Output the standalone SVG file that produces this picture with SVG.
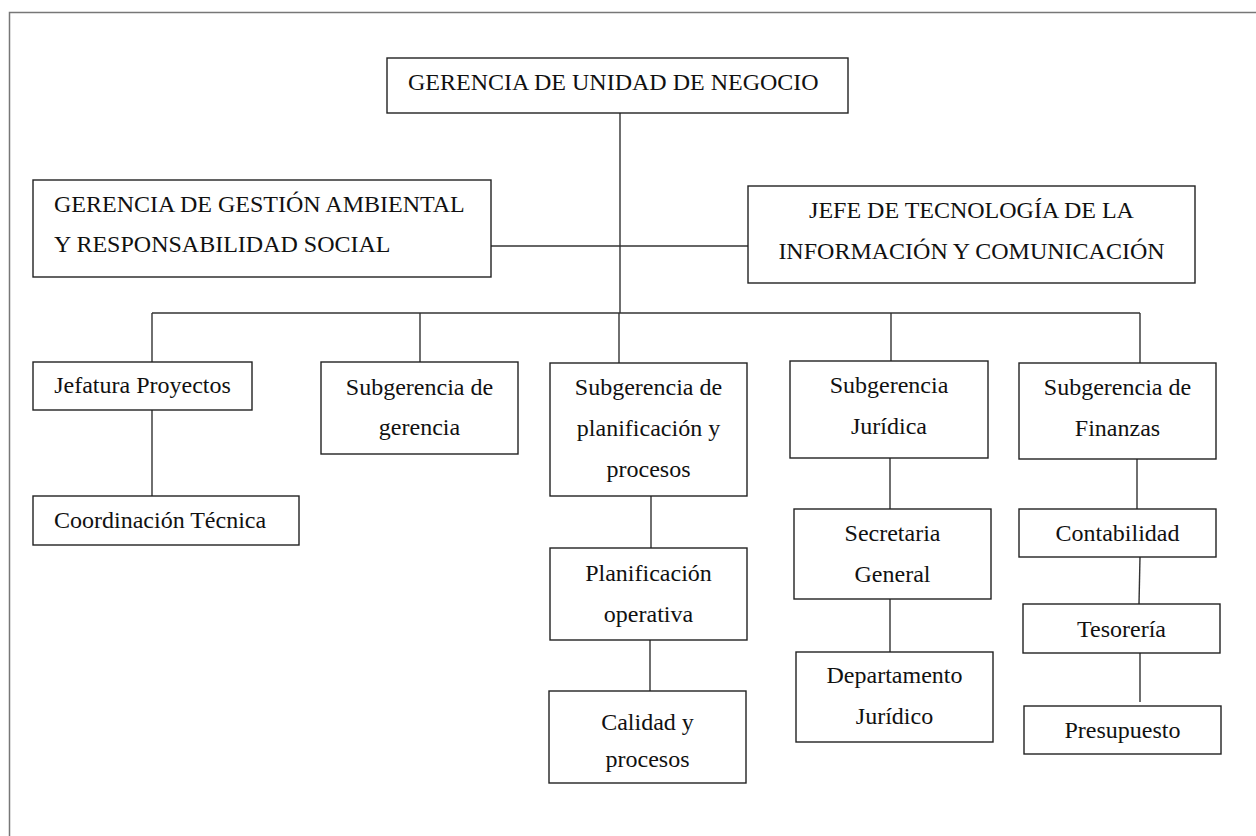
<svg xmlns="http://www.w3.org/2000/svg" width="1256" height="836" viewBox="0 0 1256 836">
<style>
.bx{fill:#fff;stroke:#222;stroke-width:1.4}
.ln{fill:none;stroke:#333;stroke-width:1.4}
text{font-family:"Liberation Serif","Times New Roman",serif;font-size:24px;fill:#111}
.c{text-anchor:middle}
</style>
<rect x="0" y="0" width="1256" height="836" fill="#fff"/>
<path d="M9.5,836 V12.5 H1256" fill="none" stroke="#777" stroke-width="1.5"/>
<g id="connectors" class="ln">
<line x1="620" y1="113" x2="620" y2="313"/>
<line x1="491" y1="246" x2="749" y2="246"/>
<line x1="152" y1="313" x2="1140" y2="313"/>
<line x1="152" y1="313" x2="152" y2="362"/>
<line x1="420" y1="313" x2="420" y2="362"/>
<line x1="619" y1="313" x2="619" y2="363"/>
<line x1="891" y1="313" x2="891" y2="361"/>
<line x1="1140" y1="313" x2="1140" y2="363"/>
<line x1="152" y1="410" x2="152" y2="496"/>
<line x1="651" y1="496" x2="651" y2="548"/>
<line x1="650" y1="640" x2="650" y2="691"/>
<line x1="890" y1="458" x2="890" y2="509"/>
<line x1="890" y1="599" x2="890" y2="652"/>
<line x1="1137" y1="459" x2="1137" y2="509"/>
<line x1="1140" y1="557" x2="1139" y2="604"/>
<line x1="1140" y1="653" x2="1140" y2="702"/>
</g>
<g id="n-gerencia-unidad">
<rect class="bx" x="387" y="58" width="461" height="55"/>
<text x="408" y="90">GERENCIA DE UNIDAD DE NEGOCIO</text>
</g>
<g id="n-gestion-ambiental">
<rect class="bx" x="33" y="180" width="458" height="97"/>
<text x="54" y="212">GERENCIA DE GESTIÓN AMBIENTAL</text>
<text x="54" y="252">Y RESPONSABILIDAD SOCIAL</text>
</g>
<g id="n-jefe-tic">
<rect class="bx" x="748" y="186" width="447" height="97"/>
<text class="c" x="971.5" y="218">JEFE DE TECNOLOGÍA DE LA</text>
<text class="c" x="971.5" y="259">INFORMACIÓN Y COMUNICACIÓN</text>
</g>
<g id="n-jefatura-proyectos">
<rect class="bx" x="33" y="362" width="219" height="48"/>
<text class="c" x="142.5" y="393">Jefatura Proyectos</text>
</g>
<g id="n-coordinacion-tecnica">
<rect class="bx" x="33" y="496" width="266" height="49"/>
<text x="54" y="528">Coordinación Técnica</text>
</g>
<g id="n-subgerencia-gerencia">
<rect class="bx" x="321" y="362" width="197" height="92"/>
<text class="c" x="419.5" y="395">Subgerencia de</text>
<text class="c" x="419.5" y="435">gerencia</text>
</g>
<g id="n-subgerencia-planificacion">
<rect class="bx" x="550" y="363" width="197" height="133"/>
<text class="c" x="648.5" y="395">Subgerencia de</text>
<text class="c" x="648.5" y="436">planificación y</text>
<text class="c" x="648.5" y="477">procesos</text>
</g>
<g id="n-planificacion-operativa">
<rect class="bx" x="550" y="548" width="197" height="92"/>
<text class="c" x="648.5" y="581">Planificación</text>
<text class="c" x="648.5" y="622">operativa</text>
</g>
<g id="n-calidad-procesos">
<rect class="bx" x="549" y="691" width="197" height="92"/>
<text class="c" x="647.5" y="730">Calidad y</text>
<text class="c" x="647.5" y="767">procesos</text>
</g>
<g id="n-subgerencia-juridica">
<rect class="bx" x="790" y="361" width="198" height="97"/>
<text class="c" x="889" y="393">Subgerencia</text>
<text class="c" x="889" y="434">Jurídica</text>
</g>
<g id="n-secretaria-general">
<rect class="bx" x="794" y="509" width="197" height="90"/>
<text class="c" x="892.5" y="541">Secretaria</text>
<text class="c" x="892.5" y="582">General</text>
</g>
<g id="n-departamento-juridico">
<rect class="bx" x="796" y="652" width="197" height="90"/>
<text class="c" x="894.5" y="683">Departamento</text>
<text class="c" x="894.5" y="724">Jurídico</text>
</g>
<g id="n-subgerencia-finanzas">
<rect class="bx" x="1019" y="363" width="197" height="96"/>
<text class="c" x="1117.5" y="395">Subgerencia de</text>
<text class="c" x="1117.5" y="436">Finanzas</text>
</g>
<g id="n-contabilidad">
<rect class="bx" x="1019" y="509" width="197" height="48"/>
<text class="c" x="1117.5" y="541">Contabilidad</text>
</g>
<g id="n-tesoreria">
<rect class="bx" x="1023" y="604" width="197" height="49"/>
<text class="c" x="1121.5" y="637">Tesorería</text>
</g>
<g id="n-presupuesto">
<rect class="bx" x="1024" y="706" width="197" height="48"/>
<text class="c" x="1122.5" y="738">Presupuesto</text>
</g>
</svg>
